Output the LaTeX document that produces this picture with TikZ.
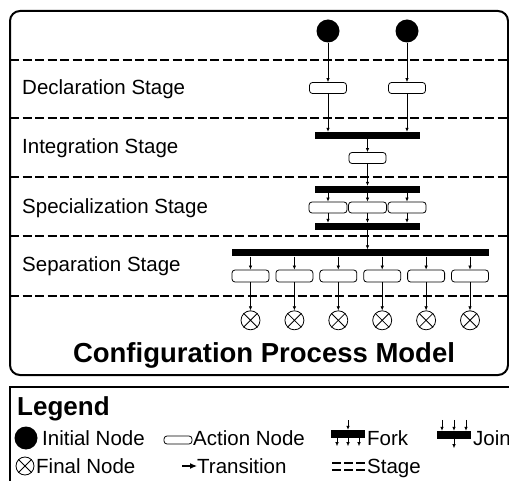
\documentclass[tikz,border=0pt]{standalone}
\usepackage{fontspec}
\setmainfont{Liberation Sans}
\usetikzlibrary{arrows.meta,positioning,calc}
\tikzset{initnode/.style={circle,fill=black,inner sep=0pt,minimum size=23pt},act/.style={draw,rounded corners=3pt,line width=.8pt,minimum width=37pt,minimum height=11pt,inner sep=0pt},bar/.style={fill=black,inner sep=0pt,minimum height=7pt},finalnode/.style={circle,draw,line width=.8pt,inner sep=0pt,minimum size=19pt},arr/.style={-{Latex[length=4pt,width=3.5pt]},line width=.7pt},stageline/.style={line width=2pt,dash pattern=on 9pt off 3.5pt},lbl/.style={anchor=base west,inner sep=0pt,font=\fontsize{20.5}{24}\selectfont},ttl/.style={anchor=base,inner sep=0pt,font=\bfseries\fontsize{27.5}{32}\selectfont}}
\begin{document}
\begin{tikzpicture}[x=1pt,y=-1pt]
\useasboundingbox (0,0) rectangle (509,481);
\clip (0,0) rectangle (509,481);
\draw[line width=2pt,rounded corners=10pt] (10,11) rectangle (508,375);
\foreach \y in {60,118,177,236,296}{\draw[stageline] (10,\y)--(508,\y);}
\node[lbl] (decl) at (22,95) {Declaration Stage};
\node[lbl] (integ) at (22,154) {Integration Stage};
\node[lbl] (spec) at (22,214) {Specialization Stage};
\node[lbl] (sep) at (22,272) {Separation Stage};
\node[initnode] (i1) at (328,31) {};
\node[initnode] (i2) at (407,31) {};
\node[act] (d1) at (328,88) {};
\node[act] (d2) at (407,88) {};
\node[bar,minimum width=105pt] (j1) at (367.5,135.5) {};
\node[act] (g1) at (367.5,158) {};
\node[bar,minimum width=105pt] (f1) at (367.5,189.5) {};
\foreach \x [count=\i] in {328,367.5,407}{\node[act,minimum width=38pt] (s\i) at (\x,207.5) {};}
\node[bar,minimum width=105pt] (j2) at (367.5,226.5) {};
\node[bar,minimum width=257pt] (f2) at (360.5,253) {};
\foreach \i in {1,...,6}{
  \node[act,minimum height=12pt] (p\i) at (206.6+43.9*\i,276) {};
  \node[finalnode,below=28pt of p\i] (e\i) {};
  \draw[line width=.8pt] (e\i.north east)--(e\i.south west) (e\i.north west)--(e\i.south east);
}
\draw[arr] (i1)--(d1);
\draw[arr] (i2)--(d2);
\draw[arr] (d1)--(d1|-j1.north);
\draw[arr] (d2)--(d2|-j1.north);
\draw[arr] (j1)--(g1);
\draw[arr] (g1)--(f1);
\foreach \i in {1,2,3}{\draw[arr] (s\i|-f1.south)--(s\i); \draw[arr] (s\i)--(s\i|-j2.north);}
\draw[arr] (j2)--(j2|-f2.north);
\foreach \i in {1,...,6}{\draw[arr] (p\i|-f2.south)--(p\i); \draw[arr] (p\i)--(e\i);}
\node[ttl] (title) at (264,362) {Configuration Process Model};
\draw[line width=2pt] (10,387) rectangle (530,500);
\node[ttl,anchor=base west,font=\bfseries\fontsize{26}{30}\selectfont] (leg) at (17,415) {Legend};
\node[initnode] (li) at (26,438) {};
\node[lbl] (lit) at (42,445) {Initial Node};
\node[act,minimum width=28pt,minimum height=8pt] (la) at (178,440) {};
\node[lbl] (lat) at (193,445) {Action Node};
\node[bar,minimum width=34pt,minimum height=8pt] (lf) at (348,434) {};
\coordinate (lfin) at (348,420);
\draw[arr] (lfin)--(lf);
\foreach \dx [count=\i] in {-11,0,11}{\coordinate (lfo\i) at ($(lf.south)+(\dx,8)$); \draw[arr] (lf.south-|lfo\i)--(lfo\i);}
\node[lbl] (lft) at (367,445) {Fork};
\node[bar,minimum width=34pt,minimum height=8pt] (lj) at (454,435) {};
\foreach \dx [count=\i] in {-12,0,12}{\coordinate (lji\i) at ($(lj.north)+(\dx,-11)$); \draw[arr] (lji\i)--(lj.north-|lji\i);}
\coordinate (ljo) at ($(lj.south)+(0,9)$);
\draw[arr] (lj)--(ljo);
\node[lbl] (ljt) at (473,445) {Join};
\node[finalnode,minimum size=18pt] (le) at (25,466) {};
\draw[line width=.8pt] (le.north east)--(le.south west) (le.north west)--(le.south east);
\node[lbl] (let) at (36,473) {Final Node};
\coordinate (lt1) at (182,466);
\coordinate (lt2) at (197,466);
\draw[-{Latex[length=7pt,width=6pt]},line width=1.2pt] (lt1)--(lt2);
\node[lbl] (ltt) at (197,473) {Transition};
\draw[line width=1.5pt,dash pattern=on 9pt off 3pt] (332,463)--(365,463) (332,470)--(365,470);
\node[lbl] (lst) at (367,473) {Stage};
\end{tikzpicture}
\end{document}
